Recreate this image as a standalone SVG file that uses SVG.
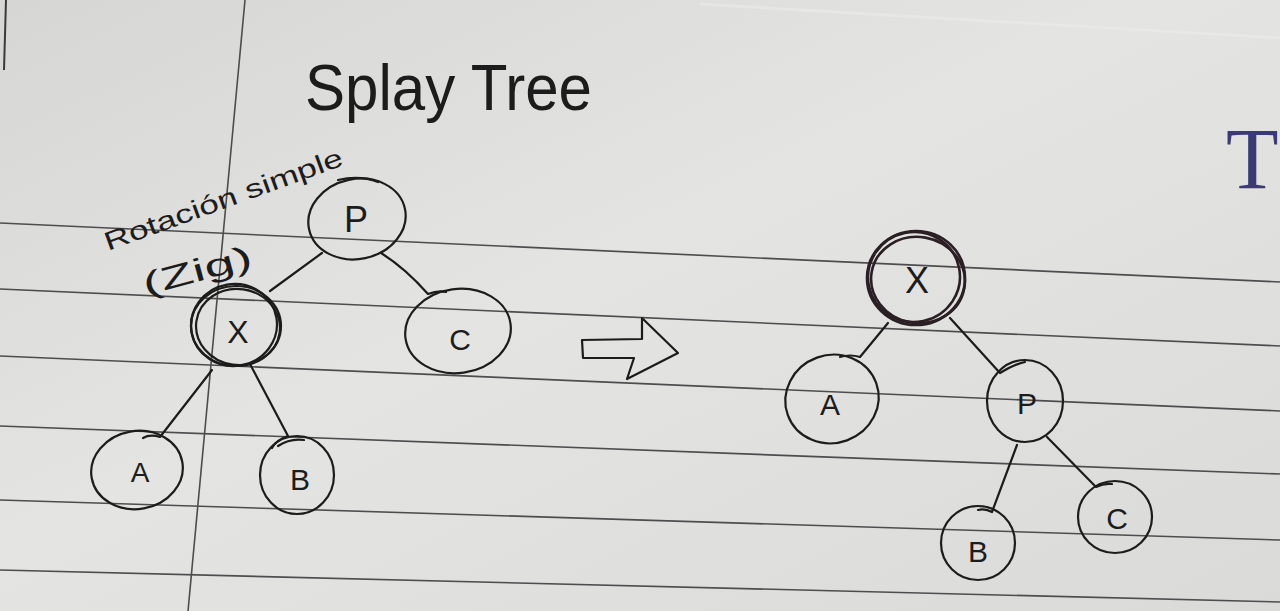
<svg xmlns="http://www.w3.org/2000/svg" width="1280" height="611" viewBox="0 0 1280 611">
<style>
.ink{fill:none;stroke:#1c1c1c;stroke-width:2.2;stroke-linecap:round;stroke-linejoin:round}
.rule{fill:none;stroke:#4d4d4f;stroke-width:1.6}
.lbl{font-family:"Liberation Sans","DejaVu Sans",sans-serif;fill:#1c1c1c;text-anchor:middle}
.dark{fill:none;stroke:#2a1f24;stroke-width:2.6}
</style>
<defs>
<linearGradient id="paper" x1="0" y1="0" x2="1" y2="1">
<stop offset="0" stop-color="#d6d6d4"/>
<stop offset="0.45" stop-color="#e4e4e2"/>
<stop offset="1" stop-color="#dadad8"/>
</linearGradient>
</defs>
<rect x="0" y="0" width="1280" height="611" fill="url(#paper)"/>
<g id="paper-rules">
<path class="rule" d="M0,223 L1280,282"/>
<path class="rule" d="M0,289 L1280,346"/>
<path class="rule" d="M0,356 L1280,411"/>
<path class="rule" d="M0,426 L1280,474"/>
<path class="rule" d="M0,500 L1280,540"/>
<path class="rule" d="M0,570 L1280,602"/>
<path class="rule" d="M245,0 L188,611" stroke-width="1.8"/>
<path d="M700,4 L1280,38" stroke="#ebebe9" stroke-width="3" fill="none" opacity="0.6"/>
<path d="M6,0 L4,70" stroke="#3a3a3a" stroke-width="2" fill="none"/>
</g>
<text x="1226" y="188" font-family="Liberation Serif,serif" font-size="86" fill="#3b3a72">T</text>
<text class="lbl" x="305" y="110" font-size="64" textLength="287" lengthAdjust="spacingAndGlyphs" style="text-anchor:start">Splay Tree</text>
<text class="lbl" x="108" y="251" font-size="26" textLength="252" lengthAdjust="spacingAndGlyphs" transform="rotate(-20 108 251)" style="text-anchor:start">Rotación simple</text>
<text class="lbl" x="200" y="281" font-size="32" textLength="112" lengthAdjust="spacingAndGlyphs" transform="rotate(-15 200 281)">(Zig)</text>
<g id="connectors">
<path class="ink" d="M322,253 L270,291"/>
<path class="ink" d="M381,253 Q405,268 428,294 Q438,290 446,292"/>
<path class="ink" d="M212,370 L160,437 Q150,434 143,438" stroke-width="1.8"/>
<path class="ink" d="M250,364 L288,436 Q276,440 272,448"/>
<path class="ink" d="M888,323 L860,357 Q850,354 840,357" stroke-width="2"/>
<path class="ink" d="M950,318 L1000,373 Q1015,364 1025,362"/>
<path class="ink" d="M1017,445 L992,512 Q985,508 978,510"/>
<path class="ink" d="M1047,437 L1096,487 Q1104,483 1112,484"/>
<path class="ink" d="M582,340 L642,339 L642,318 L678,353 L627,379 L634,358 L583,358 Z"/>
</g>
<g id="node-P-left">
<ellipse class="ink" cx="357" cy="219" rx="49" ry="40" transform="rotate(-12 357 219)"/>
<path class="ink" d="M338,180 Q360,175 378,182"/>
<text class="lbl" x="356" y="232" font-size="36">P</text>
</g>
<g id="node-X-left">
<ellipse class="ink" cx="236" cy="326" rx="45" ry="40" stroke-width="3"/>
<ellipse class="ink" cx="234" cy="325" rx="43" ry="41" transform="rotate(-10 234 325)" stroke-width="2.5"/>
<ellipse class="ink" cx="238" cy="327" rx="42" ry="38" transform="rotate(8 238 327)" stroke-width="2.5"/>
<text class="lbl" x="238" y="343" font-size="32">X</text>
</g>
<g id="node-C-left">
<ellipse class="ink" cx="458" cy="331" rx="53" ry="42" transform="rotate(-8 458 331)"/>
<text class="lbl" x="460" y="350" font-size="30">C</text>
</g>
<g id="node-A-left">
<ellipse class="ink" cx="137" cy="470" rx="46" ry="39" transform="rotate(-10 137 470)"/>
<text class="lbl" x="140" y="482" font-size="28">A</text>
</g>
<g id="node-B-left">
<ellipse class="ink" cx="297" cy="475" rx="37" ry="39"/>
<path class="ink" d="M278,446 Q290,438 304,440"/>
<text class="lbl" x="300" y="490" font-size="30">B</text>
</g>
<g id="node-X-right">
<ellipse class="dark" cx="916" cy="278" rx="49" ry="47" stroke-width="3"/>
<ellipse class="dark" cx="914" cy="277" rx="46" ry="45" transform="rotate(-12 914 277)"/>
<ellipse class="dark" cx="918" cy="280" rx="47" ry="43" transform="rotate(10 918 280)" stroke-width="2"/>
<text class="lbl" x="917" y="293" font-size="36" fill="#2a1f24">X</text>
</g>
<g id="node-A-right">
<ellipse class="ink" cx="832" cy="399" rx="47" ry="44" transform="rotate(-20 832 399)"/>
<text class="lbl" x="830" y="415" font-size="30">A</text>
</g>
<g id="node-P-right">
<ellipse class="ink" cx="1025" cy="401" rx="38" ry="41"/>
<text class="lbl" x="1027" y="414" font-size="30">P</text>
</g>
<g id="node-B-right">
<ellipse class="ink" cx="978" cy="543" rx="37" ry="37"/>
<text class="lbl" x="978" y="562" font-size="30">B</text>
</g>
<g id="node-C-right">
<ellipse class="ink" cx="1115" cy="517" rx="37" ry="36"/>
<text class="lbl" x="1117" y="529" font-size="30">C</text>
</g>
</svg>
